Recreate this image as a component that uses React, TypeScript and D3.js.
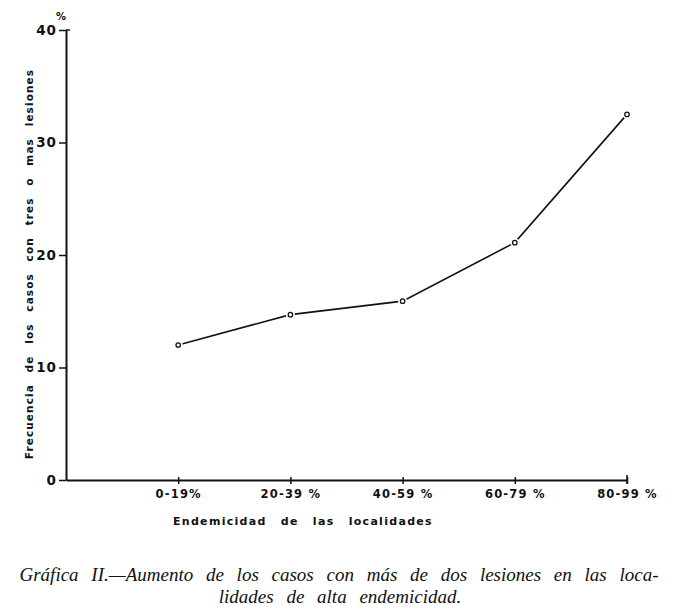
import React, { useEffect, useRef } from "react";
import * as d3 from "d3";

// Data
const categories = ["0-19%", "20-39 %", "40-59 %", "60-79 %", "80-99 %"];
const frequency = [12.0, 14.7, 15.9, 21.1, 32.5];
const yTicks = [0, 10, 20, 30, 40];

const yTitle = "Frecuencia de los casos con tres o mas lesiones";
const xTitle = "Endemicidad de las localidades";
const caption1 = "Gráfica II.—Aumento de los casos con más de dos lesiones en las loca-";
const caption2 = "lidades de alta endemicidad.";

export default function App() {
  const ref = useRef<SVGSVGElement>(null);

  useEffect(() => {
    const svg = d3.select(ref.current);
    svg.selectAll("*").remove();

    // plot frame
    const left = 66, right = 627, top = 30, bottom = 480;

    const x = d3.scalePoint<string>()
      .domain(categories)
      .range([left, right])
      .padding(0.5)
      .align(1);
    const y = d3.scaleLinear().domain([0, 40]).range([bottom, top]);

    const sans = "'DejaVu Sans', sans-serif";

    // axes
    const xAxis = svg.append("g")
      .attr("transform", "translate(0," + bottom + ")")
      .call(d3.axisBottom(x).tickSize(4).tickSizeOuter(0).tickPadding(6));
    xAxis.select(".domain").attr("stroke", "#111").attr("stroke-width", 2);
    xAxis.selectAll(".tick line").attr("stroke", "#111").attr("stroke-width", 1.5)
      .attr("y1", -3);
    xAxis.selectAll(".tick text")
      .attr("font-family", sans)
      .attr("font-size", 11.5)
      .attr("font-weight", "bold")
      .attr("letter-spacing", "1.2px")
      .attr("fill", "#111");

    const yAxis = svg.append("g")
      .attr("transform", "translate(" + left + ",0)")
      .call(d3.axisLeft(y).tickValues(yTicks).tickSize(7).tickSizeOuter(0).tickPadding(2));
    yAxis.select(".domain").attr("stroke", "#111").attr("stroke-width", 2);
    yAxis.selectAll(".tick line").attr("stroke", "#111").attr("stroke-width", 1.5);
    yAxis.selectAll(".tick text")
      .attr("font-family", sans)
      .attr("font-size", 13.5)
      .attr("font-weight", "bold")
      .attr("letter-spacing", "1px")
      .attr("fill", "#111");
    // top tick of y axis extends a little past the axis
    yAxis.append("line")
      .attr("x1", 0).attr("x2", 4)
      .attr("y1", y(40)).attr("y2", y(40))
      .attr("stroke", "#111").attr("stroke-width", 1.5);

    // end tick on x axis
    svg.append("line")
      .attr("x1", right).attr("x2", right)
      .attr("y1", bottom - 5).attr("y2", bottom + 4)
      .attr("stroke", "#111").attr("stroke-width", 1.5);

    // percent sign above y axis
    svg.append("text")
      .attr("x", 61).attr("y", 20)
      .attr("text-anchor", "middle")
      .attr("font-family", sans).attr("font-size", 10).attr("font-weight", "bold")
      .attr("fill", "#111")
      .text("%");

    // axis titles
    svg.append("text")
      .attr("transform", "translate(33," + 264 + ") rotate(-90)")
      .attr("text-anchor", "middle")
      .attr("font-family", sans).attr("font-size", 10.5).attr("font-weight", "bold")
      .attr("letter-spacing", "1.1px")
      .attr("word-spacing", "7px")
      .attr("fill", "#111")
      .text(yTitle);

    svg.append("text")
      .attr("x", 173).attr("y", 525)
      .attr("font-family", sans).attr("font-size", 11).attr("font-weight", "bold")
      .attr("letter-spacing", "1.3px")
      .attr("word-spacing", "9px")
      .attr("fill", "#111")
      .text(xTitle);

    // the line
    const pts = categories.map((c, i) => ({ c: c, v: frequency[i] }));
    const line = d3.line<{ c: string; v: number }>()
      .x(d => x(d.c) as number)
      .y(d => y(d.v));
    svg.append("path")
      .datum(pts)
      .attr("d", line)
      .attr("fill", "none")
      .attr("stroke", "#111")
      .attr("stroke-width", 1.6);

    // white halo so the line stops short of each marker
    svg.selectAll("circle.halo")
      .data(pts)
      .enter().append("circle")
      .attr("class", "halo")
      .attr("cx", d => x(d.c) as number)
      .attr("cy", d => y(d.v))
      .attr("r", 4.5)
      .attr("fill", "white");
    svg.selectAll("circle.pt")
      .data(pts)
      .enter().append("circle")
      .attr("class", "pt")
      .attr("cx", d => x(d.c) as number)
      .attr("cy", d => y(d.v))
      .attr("r", 2.2)
      .attr("fill", "white")
      .attr("stroke", "#111")
      .attr("stroke-width", 1.3);

    // caption
    const serif = "'Liberation Serif', 'DejaVu Serif', serif";
    svg.append("text")
      .attr("x", 339).attr("y", 581)
      .attr("text-anchor", "middle")
      .attr("font-family", serif).attr("font-style", "italic").attr("font-size", 19)
      .attr("word-spacing", "8px")
      .attr("fill", "#111")
      .text(caption1);
    svg.append("text")
      .attr("x", 340).attr("y", 603)
      .attr("text-anchor", "middle")
      .attr("font-family", serif).attr("font-style", "italic").attr("font-size", 19)
      .attr("word-spacing", "8px")
      .attr("fill", "#111")
      .text(caption2);
  }, []);

  return (
    <svg ref={ref} width={680} height={612}
      style={{ position: "absolute", left: 0, top: 0, background: "white" }} />
  );
}
